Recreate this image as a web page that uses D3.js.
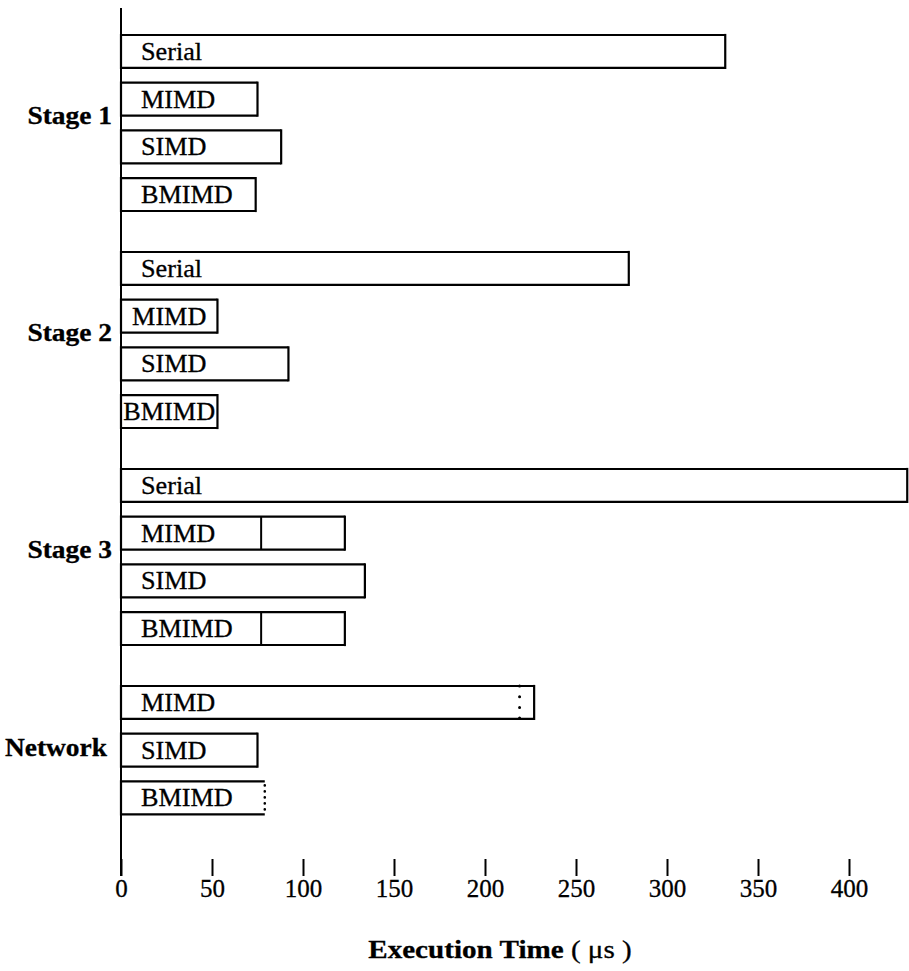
<!DOCTYPE html>
<html>
<head>
<meta charset="utf-8" />
<title>Execution Time by Stage</title>
<script src="https://d3js.org/d3.v7.min.js"></script>
<style>
  body { margin:0; background:#fff; }
  text { font-family: "Liberation Serif", "Times New Roman", serif; fill:#000; stroke:#000; stroke-width:0.3px; }
</style>
</head>
<body>
<svg id="viz"></svg>
<script>
// values (microseconds)
var stages = ["Stage 1", "Stage 2", "Stage 3", "Network"];
var machines = [
  ["Serial", "MIMD", "SIMD", "BMIMD"],
  ["Serial", "MIMD", "SIMD", "BMIMD"],
  ["Serial", "MIMD", "SIMD", "BMIMD"],
  ["MIMD", "SIMD", "BMIMD"]
];
var times = [
  [332, 75, 88, 74],
  [279, 53, 92, 53],
  [432, 123, 134, 123],
  [227, 75, 79]
];
// inner split of a bar (0 = none)
var splits = [
  [0, 0, 0, 0],
  [0, 0, 0, 0],
  [0, 77, 0, 77],
  [219, 0, 0]
];
// right end drawn dotted
var dottedEnds = [
  [false, false, false, false],
  [false, false, false, false],
  [false, false, false, false],
  [false, false, true]
];
var xTicks = [0, 50, 100, 150, 200, 250, 300, 350, 400];

var width = 909, height = 971;
var svg = d3.select("#viz").attr("width", width).attr("height", height);

var x = d3.scaleLinear().domain([0, 400]).range([121, 849]);
var yGroup = d3.scaleBand().domain(stages).range([35, 903]);
var ySlot = d3.scaleBand().domain([0, 1, 2, 3]).range([0, 176]).paddingInner(0.31);
var bh = ySlot.bandwidth();

var rows = [];
stages.forEach(function (s, g) {
  machines[g].forEach(function (m, i) {
    rows.push({stage: s, name: m, slot: i, t: times[g][i],
               split: splits[g][i], dotEnd: dottedEnds[g][i], dotSplit: s === "Network"});
  });
});

var bars = svg.append("g").selectAll("g").data(rows).enter().append("g")
  .attr("transform", function (d) { return "translate(0," + (yGroup(d.stage) + ySlot(d.slot)) + ")"; });

// top, left, bottom
bars.append("path")
  .attr("d", function (d) {
    return "M" + x(d.t) + ",0H" + x(0) + "V" + bh + "H" + x(d.t);
  })
  .attr("fill", "none").attr("stroke", "#000").attr("stroke-width", 2.2);

// right edge
bars.append("line")
  .attr("x1", function (d) { return x(d.t); }).attr("x2", function (d) { return x(d.t); })
  .attr("y1", function (d) { return d.dotEnd ? 4 : -1.1; })
  .attr("y2", function (d) { return d.dotEnd ? bh : bh + 1.1; })
  .attr("stroke", "#000")
  .attr("stroke-width", function (d) { return d.dotEnd ? 2.6 : 2.2; })
  .attr("stroke-linecap", function (d) { return d.dotEnd ? "round" : "butt"; })
  .attr("stroke-dasharray", function (d) { return d.dotEnd ? "0,6" : null; });

// inner split marks
bars.filter(function (d) { return d.split > 0; })
  .append("line")
  .attr("x1", function (d) { return x(d.split); }).attr("x2", function (d) { return x(d.split); })
  .attr("y1", 0)
  .attr("y2", bh)
  .attr("stroke", "#000")
  .attr("stroke-width", function (d) { return d.dotSplit ? 3 : 2; })
  .attr("stroke-linecap", function (d) { return d.dotSplit ? "round" : "butt"; })
  .attr("stroke-dasharray", function (d) { return d.dotSplit ? "0,10.7" : null; });

// bar names
var labels = bars.append("text")
  .attr("font-size", 24.5)
  .text(function (d) { return d.name; });
labels.attr("transform", function (d) {
  var w = this.getComputedTextLength() * 1.07;
  var barW = x(d.t) - x(0);
  var off = Math.min(20, (barW - w) / 2);
  return "translate(" + (x(0) + off) + "," + (bh / 2 + 8.5) + ") scale(1.07,1)";
});

// stage names
svg.append("g").selectAll("text").data(stages).enter().append("text")
  .attr("font-size", 24.5).attr("font-weight", "bold")
  .attr("text-anchor", "end")
  .attr("transform", function (s, g) {
    var n = machines[g].length;
    var mid = yGroup(s) + (ySlot(n - 1) + bh) / 2;
    var xr = s === "Network" ? 107 : 112;
    var dy = s === "Network" ? 6 : 1;
    return "translate(" + xr + "," + (mid + dy) + ") scale(1.12,1)";
  })
  .text(function (s) { return s; });

// vertical axis
svg.append("line")
  .attr("x1", x(0)).attr("x2", x(0))
  .attr("y1", 8).attr("y2", 876)
  .attr("stroke", "#000").attr("stroke-width", 2);

// bottom ticks
var axis = svg.append("g")
  .attr("transform", "translate(0,859)")
  .call(d3.axisBottom(x).tickValues(xTicks).tickSize(17).tickPadding(3).tickFormat(d3.format("d")));
axis.select(".domain").remove();
axis.selectAll(".tick line").attr("stroke-width", 2);
axis.selectAll(".tick text")
  .attr("font-family", "Liberation Serif, Times New Roman, serif")
  .attr("font-size", 25);

// axis title
var title = svg.append("text")
  .attr("text-anchor", "middle")
  .attr("transform", "translate(500,958) scale(1.12,1)")
  .attr("font-size", 26);
title.append("tspan").attr("font-weight", "bold").text("Execution Time");
title.append("tspan").text("  ( \u03bcs )");
</script>
</body>
</html>
